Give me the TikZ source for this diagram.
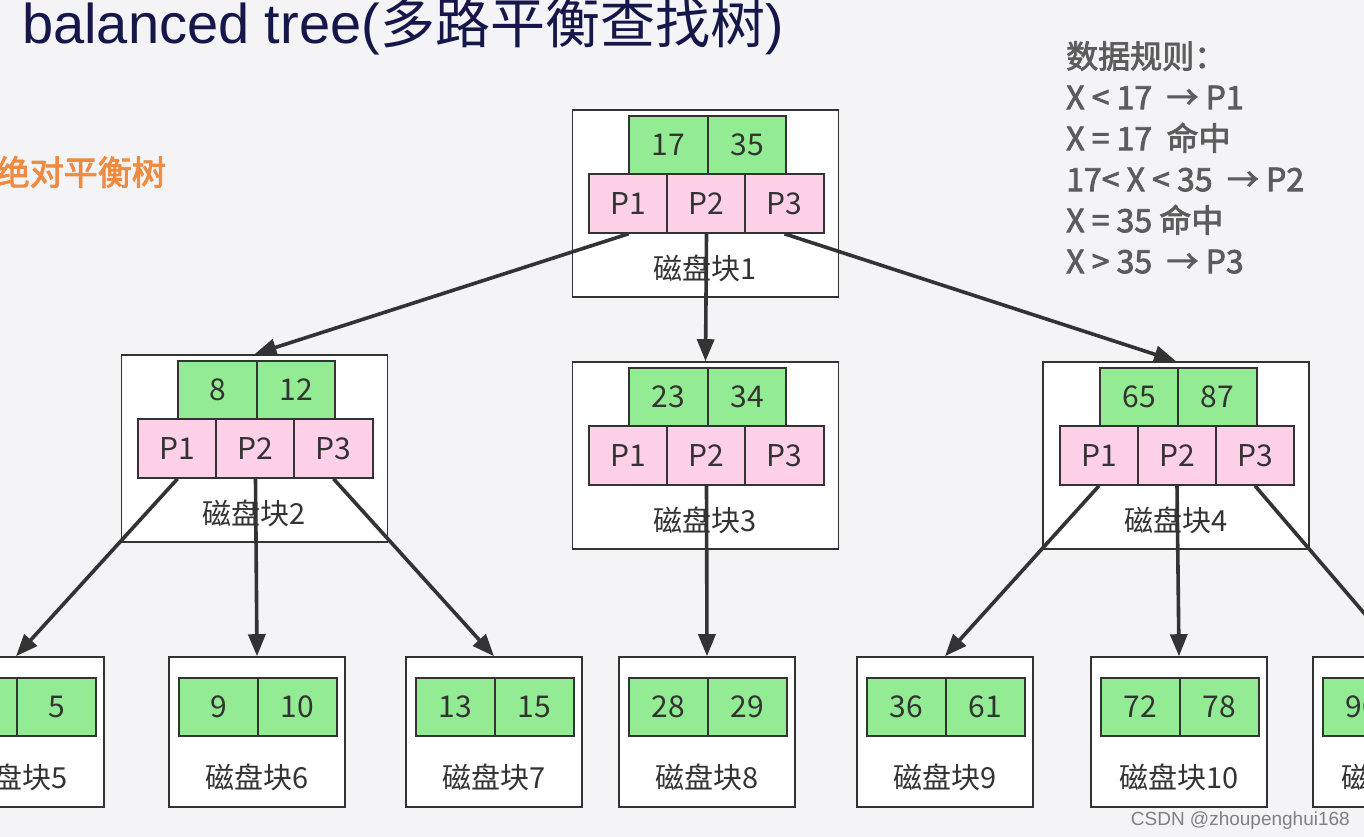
\documentclass[tikz,border=0pt]{standalone}
\usepackage{fontspec}
\usepackage{xcolor}
\usepackage{tikz}
\usetikzlibrary{arrows.meta, positioning}

\setmainfont{Noto Sans CJK SC}
\newfontfamily\latinfont{Liberation Sans}
\newfontfamily\boldcjk[FakeBold=2.5]{Noto Sans CJK SC}

\definecolor{keygreen}{HTML}{93EB93}
\definecolor{ptrpink}{HTML}{FFD1E8}
\definecolor{edgegray}{HTML}{333333}
\definecolor{titlenavy}{HTML}{15174A}
\definecolor{rulegray}{HTML}{5C5C5C}
\definecolor{tagorange}{HTML}{EF8A3E}
\definecolor{slidebg}{HTML}{F4F4F6}

\begin{document}
\begin{tikzpicture}[
    x=1pt, y=-1pt,
    disk/.style={draw=edgegray, fill=white, line width=1.6pt,
                 minimum width=266pt, minimum height=187pt, inner sep=0pt},
    leaf/.style={disk, minimum width=176pt, minimum height=150pt},
    key/.style={draw=edgegray, fill=keygreen, line width=1.6pt,
                minimum width=78.5pt, minimum height=58pt, inner sep=0pt,
                text=edgegray, font=\fontsize{30}{30}\selectfont},
    ptr/.style={key, fill=ptrpink, minimum height=59pt},
    disklabel/.style={text=edgegray, font=\fontsize{29}{29}\selectfont},
    arr/.style={-{Triangle[length=22pt, width=17pt]}, line width=3.6pt,
                edgegray}
  ]
  \useasboundingbox (0,0) rectangle (1364,837);
  \clip (0,0) rectangle (1364,837);
  \fill[slidebg] (0,0) rectangle (1364,837);

  % title and notes
  \node[anchor=base west, inner sep=0pt, text=titlenavy,
    font=\fontsize{55}{55}\selectfont] (title) at (22, 44)
    {{\latinfont\fontsize{56}{56}\selectfont balanced tree(}多路平衡查找树{\latinfont )}};
  \node[anchor=east, inner sep=0pt, text=tagorange,
    font=\boldcjk\fontsize{34}{34}\selectfont] (tag) at (166, 172)
    {绝对平衡树};
  \node[anchor=north west, align=left, inner sep=0pt, text=rulegray,
    font=\boldcjk\fontsize{32}{41}\selectfont] (rules) at (1066, 41)
    {数据规则：\\
     X < 17~~→ P1\\
     X = 17~~命中\\
     17< X < 35~~→ P2\\
     X = 35 命中\\
     X > 35~~→ P3};

  % inner disk blocks
  \foreach \i/\cx/\ty/\ka/\kb in {1/705.5/110/17/35, 2/254.5/355/8/12,
                                 3/705.5/362/23/34, 4/1176/362/65/87} {
    \node[disk] (blk\i) at (\cx, \ty+93.5) {};
    \node[key] (blk\i-k1) at (\cx-37, \ty+35) {\ka};
    \node[key] (blk\i-k2) at (\cx+41.5, \ty+35) {\kb};
    \node[ptr] (blk\i-p1) at (\cx-77, \ty+93.5) {P1};
    \node[ptr] (blk\i-p2) at (\cx+1, \ty+93.5) {P2};
    \node[ptr] (blk\i-p3) at (\cx+79, \ty+93.5) {P3};
    \node[disklabel] (blk\i-t) at (\cx, \ty+158) {磁盘块\i};
  }

  % leaf disk blocks
  \foreach \i/\cx/\ka/\kb in {5/16/3/5, 6/257/9/10, 7/494/13/15,
                             8/707/28/29, 9/945/36/61, 10/1179/72/78,
                             11/1401/90/99} {
    \node[leaf] (blk\i) at (\cx, 732) {};
    \node[key] (blk\i-k1) at (\cx-38.5, 707) {\ka};
    \node[key] (blk\i-k2) at (\cx+40.5, 707) {\kb};
    \node[disklabel] (blk\i-t) at (\cx, 777) {磁盘块\i};
  }

  \draw[arr] (blk1-p1.south) -- (blk2.north);
  \draw[arr] (blk1-p2.south) -- (blk3.north);
  \draw[arr] (blk1-p3.south) -- (blk4.north);
  \draw[arr] (blk2-p1.south) -- (blk5.north);
  \draw[arr] (blk2-p2.south) -- (blk6.north);
  \draw[arr] (blk2-p3.south) -- (blk7.north);
  \draw[arr] (blk3-p2.south) -- (blk8.north);
  \draw[arr] (blk4-p1.south) -- (blk9.north);
  \draw[arr] (blk4-p2.south) -- (blk10.north);
  \draw[arr] (blk4-p3.south) -- (blk11.north);

  \node[anchor=base east, inner sep=0pt, text=gray,
    font=\latinfont\fontsize{19}{19}\selectfont] (mark) at (1350, 825)
    {CSDN @zhoupenghui168};
\end{tikzpicture}
\end{document}
